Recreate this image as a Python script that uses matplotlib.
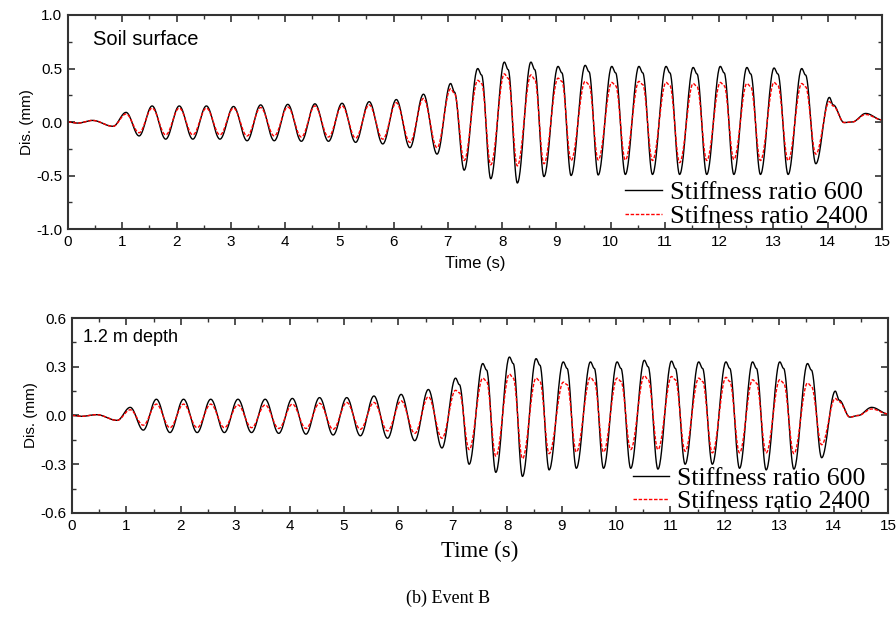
import numpy as np
import matplotlib
matplotlib.use("Agg")
import matplotlib.pyplot as plt
from matplotlib.ticker import MultipleLocator, FormatStrFormatter

# extremum times (s), shared by all four traces
peak_t = [1.07, 1.55, 2.05, 2.55, 3.05, 3.55, 4.05, 4.55, 5.05, 5.55, 6.05, 6.55, 7.05,
          7.55, 8.04, 8.53, 9.03, 9.53, 10.02, 10.52, 11.02, 11.52, 12.02, 12.51, 13.01,
          13.52, 14.03]
trough_t = [1.31, 1.80, 2.30, 2.80, 3.30, 3.80, 4.30, 4.80, 5.30, 5.80, 6.30, 6.80, 7.30,
            7.79, 8.28, 8.77, 9.27, 9.77, 10.27, 10.77, 11.27, 11.77, 12.27, 12.76, 13.27,
            13.78, 14.30]
lead_t = [0.0, 0.18, 0.45, 0.83]
tail_t = [14.45, 14.70, 15.0]

# soil surface
surf_600_peaks = [0.09, 0.15, 0.15, 0.15, 0.145, 0.16, 0.165, 0.17, 0.175, 0.19, 0.21, 0.26, 0.36,
                  0.50, 0.56, 0.56, 0.52, 0.53, 0.52, 0.52, 0.52, 0.51, 0.52, 0.51, 0.505, 0.50, 0.23]
surf_600_troughs = [-0.13, -0.16, -0.16, -0.16, -0.175, -0.175, -0.18, -0.18, -0.19, -0.205, -0.24,
                    -0.30, -0.45, -0.53, -0.57, -0.51, -0.50, -0.495, -0.49, -0.49, -0.49, -0.49,
                    -0.49, -0.49, -0.49, -0.39, -0.005]
surf_600_shoulder = [0.28, 0.44, 0.49, 0.49, 0.46, 0.47, 0.46, 0.46, 0.46, 0.45, 0.46, 0.45,
                     0.45, 0.44, 0.16]
surf_2400_peaks = [0.075, 0.13, 0.13, 0.13, 0.13, 0.135, 0.14, 0.15, 0.15, 0.16, 0.18, 0.22, 0.31,
                   0.39, 0.45, 0.44, 0.41, 0.38, 0.37, 0.38, 0.37, 0.36, 0.37, 0.36, 0.37, 0.36, 0.19]
surf_2400_troughs = [-0.10, -0.12, -0.12, -0.12, -0.13, -0.13, -0.14, -0.14, -0.15, -0.16, -0.19,
                     -0.24, -0.36, -0.40, -0.41, -0.39, -0.36, -0.355, -0.355, -0.36, -0.38,
                     -0.36, -0.35, -0.36, -0.36, -0.30, -0.005]
surf_2400_shoulder = [0.27, 0.36, 0.41, 0.40, 0.38, 0.35, 0.34, 0.35, 0.34, 0.33, 0.34, 0.33,
                      0.34, 0.33, 0.15]
surf_lead = [0.0, -0.01, 0.015, -0.04]
surf_600_tail = [0.0, 0.08, 0.02]
surf_2400_tail = [0.0, 0.07, 0.02]

# 1.2 m depth
deep_600_peaks = [0.05, 0.10, 0.10, 0.10, 0.10, 0.10, 0.105, 0.11, 0.11, 0.12, 0.13, 0.16, 0.23,
                  0.32, 0.36, 0.35, 0.33, 0.33, 0.33, 0.34, 0.335, 0.33, 0.33, 0.33, 0.33, 0.32, 0.15]
deep_600_troughs = [-0.09, -0.105, -0.105, -0.105, -0.105, -0.11, -0.115, -0.12, -0.125, -0.14,
                    -0.155, -0.20, -0.30, -0.35, -0.375, -0.335, -0.325, -0.325, -0.325, -0.33,
                    -0.30, -0.30, -0.325, -0.335, -0.33, -0.26, -0.01]
deep_600_shoulder = [0.19, 0.28, 0.32, 0.31, 0.29, 0.29, 0.29, 0.30, 0.29, 0.29, 0.29, 0.29,
                     0.29, 0.28, 0.095]
deep_2400_peaks = [0.035, 0.07, 0.07, 0.07, 0.065, 0.065, 0.07, 0.075, 0.08, 0.08, 0.09, 0.115,
                   0.155, 0.23, 0.255, 0.23, 0.205, 0.235, 0.23, 0.245, 0.24, 0.23, 0.235, 0.22,
                   0.22, 0.20, 0.105]
deep_2400_troughs = [-0.06, -0.075, -0.075, -0.075, -0.075, -0.08, -0.08, -0.085, -0.085, -0.095,
                     -0.11, -0.14, -0.21, -0.25, -0.265, -0.235, -0.225, -0.225, -0.21, -0.21,
                     -0.22, -0.23, -0.23, -0.23, -0.235, -0.18, -0.01]
deep_2400_shoulder = [0.14, 0.21, 0.23, 0.21, 0.19, 0.21, 0.21, 0.22, 0.22, 0.21, 0.21, 0.20,
                      0.20, 0.18, 0.085]
deep_lead = [0.0, -0.005, 0.005, -0.03]
deep_600_tail = [0.0, 0.05, 0.01]
deep_2400_tail = [0.0, 0.04, 0.01]


def trace(lead, peaks, troughs, shoulder, tail, n=30):
    # knots: lead-in, alternating peaks/troughs, shoulders just after the large peaks, tail
    sh_t = [t + 0.07 for t in peak_t[-len(shoulder):]]
    kt = lead_t + peak_t + trough_t + sh_t + tail_t
    kv = lead + peaks + troughs + shoulder + tail
    order = np.argsort(kt)
    kt = np.array(kt)[order]
    kv = np.array(kv)[order]
    s = np.linspace(0, 1, n, endpoint=False)
    w = (1 - np.cos(np.pi * s)) / 2
    xs, ys = [], []
    for i in range(len(kt) - 1):
        xs.append(kt[i] + (kt[i + 1] - kt[i]) * s)
        ys.append(kv[i] + (kv[i + 1] - kv[i]) * w)
    xs.append([kt[-1]])
    ys.append([kv[-1]])
    return np.concatenate(xs), np.concatenate(ys)


plt.rcParams['font.family'] = ['Liberation Sans', 'DejaVu Sans']
fig = plt.figure(figsize=(8.96, 6.17), dpi=100)
ax1 = fig.add_axes([0.0759, 0.6288, 0.9085, 0.3469])
ax2 = fig.add_axes([0.0804, 0.1686, 0.9107, 0.3160])

serif = ['Liberation Serif', 'DejaVu Serif']
dash = (0, (2.5, 1.2))

x, y = trace(surf_lead, surf_600_peaks, surf_600_troughs, surf_600_shoulder, surf_600_tail)
ax1.plot(x, y, color='black', lw=1.0, label='Stiffness ratio 600')
x, y = trace(surf_lead, surf_2400_peaks, surf_2400_troughs, surf_2400_shoulder, surf_2400_tail)
ax1.plot(x, y, color='red', lw=1.0, ls=dash, label='Stifness ratio 2400')

x, y = trace(deep_lead, deep_600_peaks, deep_600_troughs, deep_600_shoulder, deep_600_tail)
ax2.plot(x, y, color='black', lw=1.0, label='Stiffness ratio 600')
x, y = trace(deep_lead, deep_2400_peaks, deep_2400_troughs, deep_2400_shoulder, deep_2400_tail)
ax2.plot(x, y, color='red', lw=1.0, ls=dash, label='Stifness ratio 2400')

for ax, lim, step in [(ax1, 1.0, 0.5), (ax2, 0.6, 0.3)]:
    ax.set_xlim(0, 15)
    ax.set_ylim(-lim, lim)
    ax.xaxis.set_major_locator(MultipleLocator(1))
    ax.xaxis.set_minor_locator(MultipleLocator(0.5))
    ax.yaxis.set_major_locator(MultipleLocator(step))
    ax.yaxis.set_minor_locator(MultipleLocator(step / 2))
    ax.yaxis.set_major_formatter(FormatStrFormatter('%.1f'))
    ax.tick_params(which='both', direction='in', top=True, right=True, labelsize=11,
                   color='#333333', pad=4)
    ax.tick_params(which='major', length=5, width=1.2)
    ax.tick_params(which='minor', length=3, width=1.0)
    for sp in ax.spines.values():
        sp.set_linewidth(1.5)
        sp.set_color('#333333')
    ax.set_ylabel('Dis. (mm)', fontsize=11, labelpad=2)

ax1.legend(loc='lower right', bbox_to_anchor=(0.983, 0.005), frameon=False,
           prop={'family': serif, 'size': 19}, handlelength=1.4, handletextpad=0.3,
           labelspacing=0.0, borderaxespad=0, borderpad=0)
ax2.legend(loc='lower right', bbox_to_anchor=(0.978, 0.0), frameon=False,
           prop={'family': serif, 'size': 18.5}, handlelength=1.4, handletextpad=0.3,
           labelspacing=0.0, borderaxespad=0, borderpad=0)

ax1.set_xlabel('Time (s)', fontsize=12, labelpad=5)
ax2.set_xlabel('Time (s)', fontsize=16.5, family=serif, labelpad=6)
ax1.text(0.031, 0.885, 'Soil surface', transform=ax1.transAxes, fontsize=14.5, va='center')
ax2.text(0.014, 0.9, '1.2 m depth', transform=ax2.transAxes, fontsize=13, va='center')
fig.text(0.5, 0.031, '(b) Event B', ha='center', va='center', fontsize=13, family=serif)

fig.savefig('out.png', dpi=100)
